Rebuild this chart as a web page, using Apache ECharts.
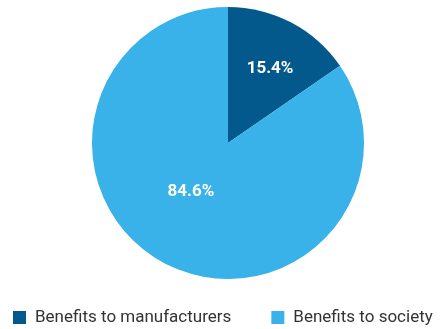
<!DOCTYPE html>
<html>
<head>
<meta charset="utf-8">
<script src="https://cdn.jsdelivr.net/npm/echarts@6/dist/echarts.min.js"></script>
<style>
html,body{margin:0;padding:0;background:#fff;}
#main{width:441px;height:329px;}
</style>
</head>
<body>
<div id="main"></div>
<script>
var categories = ['Benefits to manufacturers', 'Benefits to society'];
var values = [15.4, 84.6];
var colors = ['#03588c', '#38b2e8'];

var mychart = echarts.init(document.getElementById('main'));
var pieData = [];
for (var i = 0; i < categories.length; i++) {
  pieData.push({name: categories[i], value: values[i], itemStyle: {color: colors[i]}});
}
// small nudges of the inside labels
var labelShift = [[9, -11], [-4, -14]];
mychart.setOption({
  animation: false,
  legend: {
    data: categories,
    left: 8,
    top: 304,
    icon: 'rect',
    itemWidth: 13,
    itemHeight: 13,
    itemGap: 40,
    textStyle: {
      fontFamily: 'Roboto',
      fontSize: 17,
      color: '#333',
      padding: [0, 0, 0, 4]
    }
  },
  series: [
    {
      type: 'pie',
      center: [228, 143],
      radius: 136,
      startAngle: 90,
      clockwise: true,
      data: pieData,
      label: {
        position: 'inside',
        formatter: function (p) { return p.value.toFixed(1) + '%'; },
        color: '#fff',
        fontFamily: 'Roboto',
        fontWeight: 'bold',
        fontSize: 17
      },
      labelLayout: function (p) {
        return {dx: labelShift[p.dataIndex][0], dy: labelShift[p.dataIndex][1]};
      },
      labelLine: {show: false},
      itemStyle: {borderWidth: 0},
      emphasis: {disabled: true}
    }
  ]
});
</script>
</body>
</html>
